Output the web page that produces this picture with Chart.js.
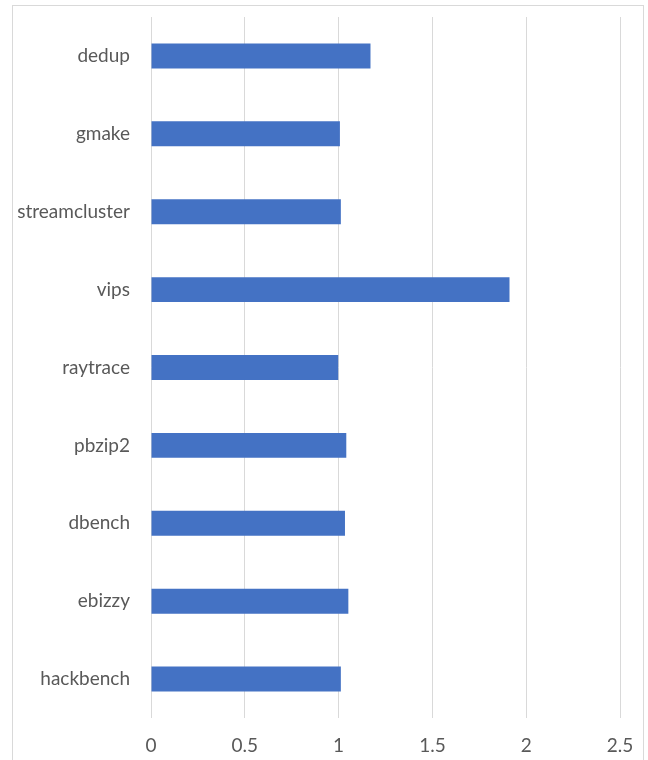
<!DOCTYPE html>
<html lang="en">
<head>
    <meta charset="UTF-8">
    <title>Benchmark bar chart</title>
    <script src="https://cdn.jsdelivr.net/npm/chart.js"></script>
    <style>
        body {
            margin: 0;
            background: #ffffff;
        }
        #frame {
            position: absolute;
            left: 12px;
            top: 5px;
            width: 630px;
            height: 820px;
            border: 1px solid #d9d9d9;
        }
        #wrap {
            position: absolute;
            left: 0;
            top: 0;
            width: 648px;
            height: 760px;
            overflow: hidden;
        }
        canvas {
            position: absolute;
            left: 0;
            top: 0;
        }
    </style>
</head>
<body>
    <div id="wrap">
        <div id="frame"></div>
        <canvas id="benchChart" width="648" height="760"></canvas>
    </div>
    <script>
        const benchmarks = ['dedup', 'gmake', 'streamcluster', 'vips', 'raytrace', 'pbzip2', 'dbench', 'ebizzy', 'hackbench'];
        const ratios = [1.17, 1.007, 1.012, 1.911, 0.998, 1.041, 1.034, 1.052, 1.012];
        const xTicks = [0, 0.5, 1, 1.5, 2, 2.5];

        const ctx = document.getElementById('benchChart').getContext('2d');

        new Chart(ctx, {
            type: 'bar',
            data: {
                labels: benchmarks,
                datasets: [{
                    data: ratios,
                    backgroundColor: '#4472c4',
                    borderWidth: 0,
                    barPercentage: 0.32,
                    categoryPercentage: 1
                }]
            },
            options: {
                indexAxis: 'y',
                responsive: false,
                animation: false,
                layout: {
                    padding: { top: 17, right: 28, left: 0, bottom: 0 }
                },
                plugins: {
                    legend: { display: false },
                    tooltip: { enabled: false }
                },
                scales: {
                    x: {
                        min: 0,
                        max: 2.5,
                        afterBuildTicks: (scale) => {
                            scale.ticks = xTicks.map(v => ({ value: v }));
                        },
                        afterFit: (scale) => {
                            scale.height = 42;
                            scale.paddingLeft = 0;
                            scale.paddingRight = 0;
                        },
                        grid: {
                            color: '#d9d9d9',
                            drawTicks: false
                        },
                        border: { display: false },
                        ticks: {
                            padding: 16,
                            color: '#595959',
                            font: { family: 'Lato', size: 19 },
                            callback: (v) => String(v)
                        }
                    },
                    y: {
                        afterFit: (scale) => {
                            scale.width = 151;
                            scale.paddingTop = 0;
                            scale.paddingBottom = 0;
                        },
                        grid: { display: false, drawTicks: false },
                        border: { display: false },
                        ticks: {
                            padding: 21,
                            color: '#595959',
                            font: { family: 'Lato', size: 19 }
                        }
                    }
                }
            }
        });
    </script>
</body>
</html>
